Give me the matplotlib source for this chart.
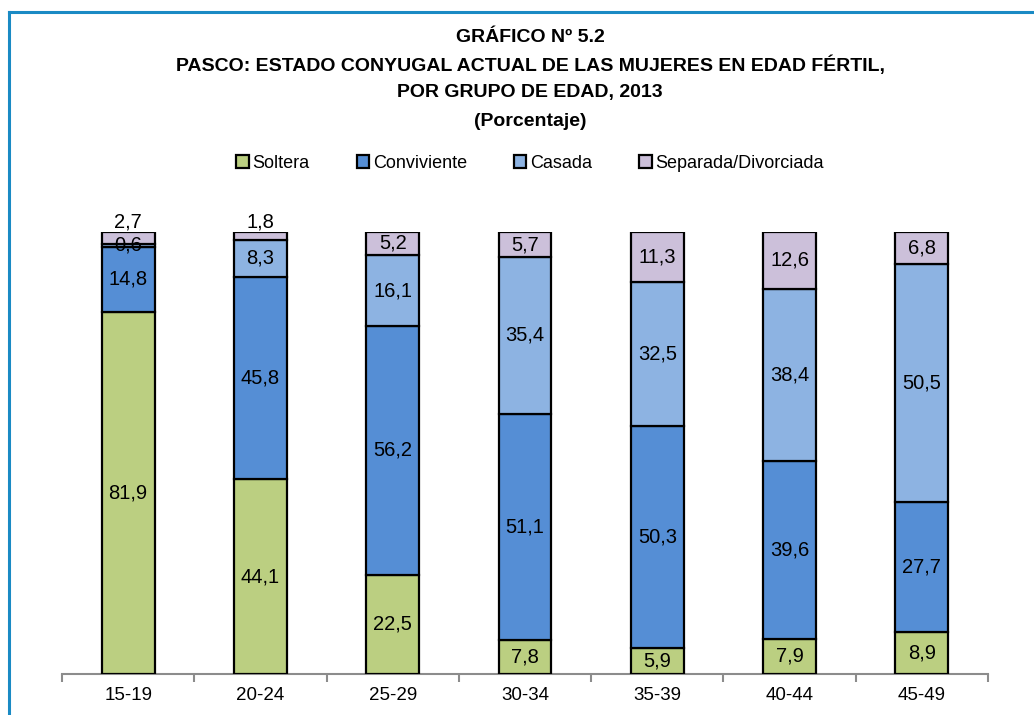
import numpy as np
import matplotlib.pyplot as plt
from matplotlib.lines import Line2D
from matplotlib.ticker import FixedLocator

plt.rcParams['font.family'] = ['Liberation Sans Narrow', 'Liberation Sans', 'DejaVu Sans']

# Data (percent) - chart is drawn as 100% stacked columns
grupos = ['15-19', '20-24', '25-29', '30-34', '35-39', '40-44', '45-49']
soltera = [81.9, 44.1, 22.5, 7.8, 5.9, 7.9, 8.9]
conviviente = [14.8, 45.8, 56.2, 51.1, 50.3, 39.6, 27.7]
casada = [0.6, 8.3, 16.1, 35.4, 32.5, 38.4, 50.5]
separada = [2.7, 1.8, 5.2, 5.7, 11.3, 12.6, 6.8]

series = [
    ('Soltera', soltera, '#BBCF81'),
    ('Conviviente', conviviente, '#558ED5'),
    ('Casada', casada, '#8DB3E2'),
    ('Separada/Divorciada', separada, '#CCC0DA'),
]

totals = np.sum([s[1] for s in series], axis=0)

fig = plt.figure(figsize=(10.34, 7.15), dpi=100)
ax = fig.add_axes([62 / 1034, 41 / 715, 926 / 1034, 442 / 715])

x = np.arange(len(grupos))
bottom = np.zeros(len(grupos))
handles = []
for name, vals, color in series:
    vals = np.array(vals)
    share = vals / totals * 100
    bars = ax.bar(x, share, 0.4, bottom=bottom, color=color, edgecolor='black',
                  linewidth=1.6, label=name, zorder=3)
    handles.append(bars)
    for xi, b, h, v in zip(x, bottom, share, vals):
        lbl = f'{v:.1f}'.replace('.', ',')
        if name == 'Separada/Divorciada' and v < 3:
            ax.text(xi, b + h, lbl, ha='center', va='bottom', fontsize=14.5,
                    zorder=4)
        else:
            ax.text(xi, b + h / 2, lbl, ha='center', va='center', fontsize=14.5,
                    zorder=4)
    bottom = bottom + share

ax.set_xlim(-0.5, len(grupos) - 0.5)
ax.set_ylim(0, 100)
ax.set_xticks(x)
ax.set_xticklabels(grupos, fontsize=13.5)
ax.tick_params(axis='x', which='major', length=0, pad=9)
ax.xaxis.set_minor_locator(FixedLocator(np.arange(-0.5, len(grupos), 1.0)))
ax.tick_params(axis='x', which='minor', length=6, width=1.5, color='#8C8C8C')
ax.set_yticks([])
for s in ['top', 'right', 'left']:
    ax.spines[s].set_visible(False)
ax.spines['bottom'].set_color('#8C8C8C')
ax.spines['bottom'].set_linewidth(1.5)

# Titles
titles = [
    ('GRÁFICO Nº 5.2', 678),
    ('PASCO: ESTADO CONYUGAL ACTUAL DE LAS MUJERES EN EDAD FÉRTIL,', 650),
    ('POR GRUPO DE EDAD, 2013', 622),
    ('(Porcentaje)', 594),
]
for t, ypx in titles:
    fig.text(530 / 1034, ypx / 715, t, ha='center', va='center',
             fontsize=14, fontweight='bold')

leg = fig.legend(handles=handles, loc='center', ncol=4,
                 bbox_to_anchor=(530 / 1034, 552 / 715), frameon=False,
                 fontsize=13, handlelength=0.7, handleheight=0.7,
                 handletextpad=0.2, columnspacing=2.6)

# Blue frame (left and top)
fc = '#1A8AC4'
fig.add_artist(Line2D([9 / 1034, 1.0], [1 - 12 / 715, 1 - 12 / 715],
                      color=fc, linewidth=2.2, transform=fig.transFigure))
fig.add_artist(Line2D([9 / 1034, 9 / 1034], [0, 1 - 12 / 715],
                      color=fc, linewidth=2.2, transform=fig.transFigure))

fig.savefig('out.png', dpi=100)
